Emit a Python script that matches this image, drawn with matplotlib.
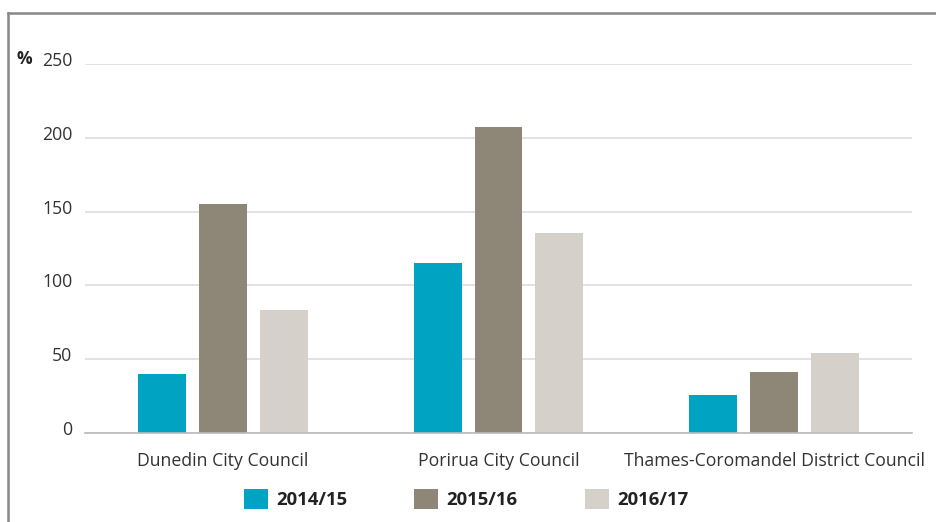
import numpy as np
import matplotlib.pyplot as plt
import matplotlib.transforms as mtransforms
from matplotlib.patches import Patch
from matplotlib.lines import Line2D

# Chart data
councils = ["Dunedin City Council", "Porirua City Council", "Thames-Coromandel District Council"]
years = ["2014/15", "2015/16", "2016/17"]
values_1415 = [40, 115, 25.5]
values_1516 = [155, 207, 41]
values_1617 = [83, 135.5, 54]
yticks = [0, 50, 100, 150, 200, 250]

colors = ["#00A3C1", "#8E8778", "#D5D1CA"]

plt.rcParams['font.family'] = ['Open Sans', 'DejaVu Sans']

fig = plt.figure(figsize=(9.37, 5.22), dpi=100)
W, H = 937, 522
ax = fig.add_axes([85 / W, 1 - 433 / H, (912 - 85) / W, (433 - 64) / H])

x = np.arange(len(councils))
width = 0.174
offset = 0.221
series = [values_1415, values_1516, values_1617]
for i, vals in enumerate(series):
    ax.bar(x + (i - 1) * offset, vals, width, color=colors[i], zorder=3)

ax.set_xlim(-0.5, 2.5)
ax.set_ylim(0, 250)
ax.set_yticks(yticks)
ax.set_xticks(x)
ax.set_xticklabels(councils)
ax.tick_params(axis='both', length=0, labelsize=12.7, labelcolor='#333333')
ax.tick_params(axis='y', pad=9)
ax.tick_params(axis='x', pad=14)
ax.grid(axis='y', color='#DDDDDD', linewidth=1.2, zorder=0)
for s in ['top', 'right', 'left']:
    ax.spines[s].set_visible(False)
ax.spines['bottom'].set_color('#BBBBBB')
ax.spines['bottom'].set_linewidth(1.2)
ax.spines['bottom'].set_zorder(4)

# y tick labels sit a little above their gridlines
shift = mtransforms.ScaledTranslation(0, 5 / 100, fig.dpi_scale_trans)
for lab in ax.get_yticklabels():
    lab.set_transform(lab.get_transform() + shift)

# % label
fig.text(17 / W, 1 - 59 / H, "%", fontsize=12.5, fontweight='bold', color='#222222',
         ha='left', va='center')

# frame lines at top and left
fig.add_artist(Line2D([8 / W, 1], [1 - 13 / H, 1 - 13 / H], color='#888888', linewidth=1.8,
                      transform=fig.transFigure))
fig.add_artist(Line2D([8 / W, 8 / W], [0, 1 - 13 / H], color='#888888', linewidth=1.8,
                      transform=fig.transFigure))

# legend
handles = [Patch(facecolor=c, edgecolor='none') for c in colors]
leg = fig.legend(handles, years, loc='center', bbox_to_anchor=(466 / W, 1 - 499 / H), ncol=3,
                 frameon=False, handlelength=1.3, handleheight=1.3, handletextpad=0.45,
                 columnspacing=3.63, prop={'size': 13.3, 'weight': 'bold'})
for t in leg.get_texts():
    t.set_color('#222222')

fig.savefig("out.png", dpi=100)
